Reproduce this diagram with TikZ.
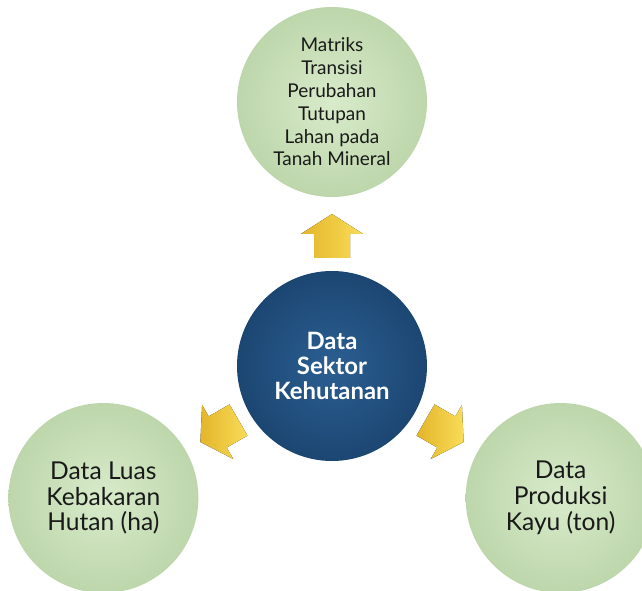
\documentclass[tikz,border=0pt]{standalone}
\usepackage{fontspec}
\setmainfont{Lato}
\usetikzlibrary{positioning,calc}
\definecolor{daun}{HTML}{D8EBCA}
\definecolor{dauntepi}{HTML}{BDD6AB}
\definecolor{laut}{HTML}{2B5F92}
\definecolor{lauttepi}{HTML}{1C4672}
\definecolor{emas}{HTML}{F9DC58}
\definecolor{emastepi}{HTML}{E3B52A}
\tikzset{
  bulat/.style={circle,minimum size=4.75cm,inner sep=0pt,align=center,
    font=\fontsize{13.5}{16.2}\selectfont,text=black!90},
  hijau/.style={bulat,inner color=daun,outer color=dauntepi},
  hijaubesar/.style={hijau,font=\fontsize{17.5}{18.3}\selectfont},
  biru/.style={bulat,inner color=laut,outer color=lauttepi,text=white,
    font=\bfseries\fontsize{17}{18}\selectfont},
  panah/.style={left color=emastepi,right color=emas}
}

\begin{document}
\begin{tikzpicture}
\useasboundingbox (-8.3,-5.6) rectangle (7.75,9.15);
\node[biru] (sektor) at (0,0) {Data\\Sektor\\Kehutanan};
\node[hijau] (matriks) at (90:6.6) {Matriks\\Transisi\\Perubahan\\Tutupan\\Lahan pada\\Tanah Mineral};
\node[hijaubesar] (luas) at (210:6.6) {Data Luas\\Kebakaran\\Hutan (ha)};
\node[hijaubesar] (kayu) at (330:6.6) {Data\\Produksi\\Kayu (ton)};
% panah kuning
\fill[panah,shift={(sektor)},rotate=90] (2.7,-.45) -- (3.3,-.45) -- (3.3,-.78) -- (3.8,0) -- (3.3,.78) -- (3.3,.45) -- (2.7,.45) -- cycle;
\fill[panah,shift={(sektor)},rotate=210] (2.7,-.45) -- (3.3,-.45) -- (3.3,-.78) -- (3.8,0) -- (3.3,.78) -- (3.3,.45) -- (2.7,.45) -- cycle;
\fill[panah,shift={(sektor)},rotate=330] (2.7,-.45) -- (3.3,-.45) -- (3.3,-.78) -- (3.8,0) -- (3.3,.78) -- (3.3,.45) -- (2.7,.45) -- cycle;
\end{tikzpicture}
\end{document}
